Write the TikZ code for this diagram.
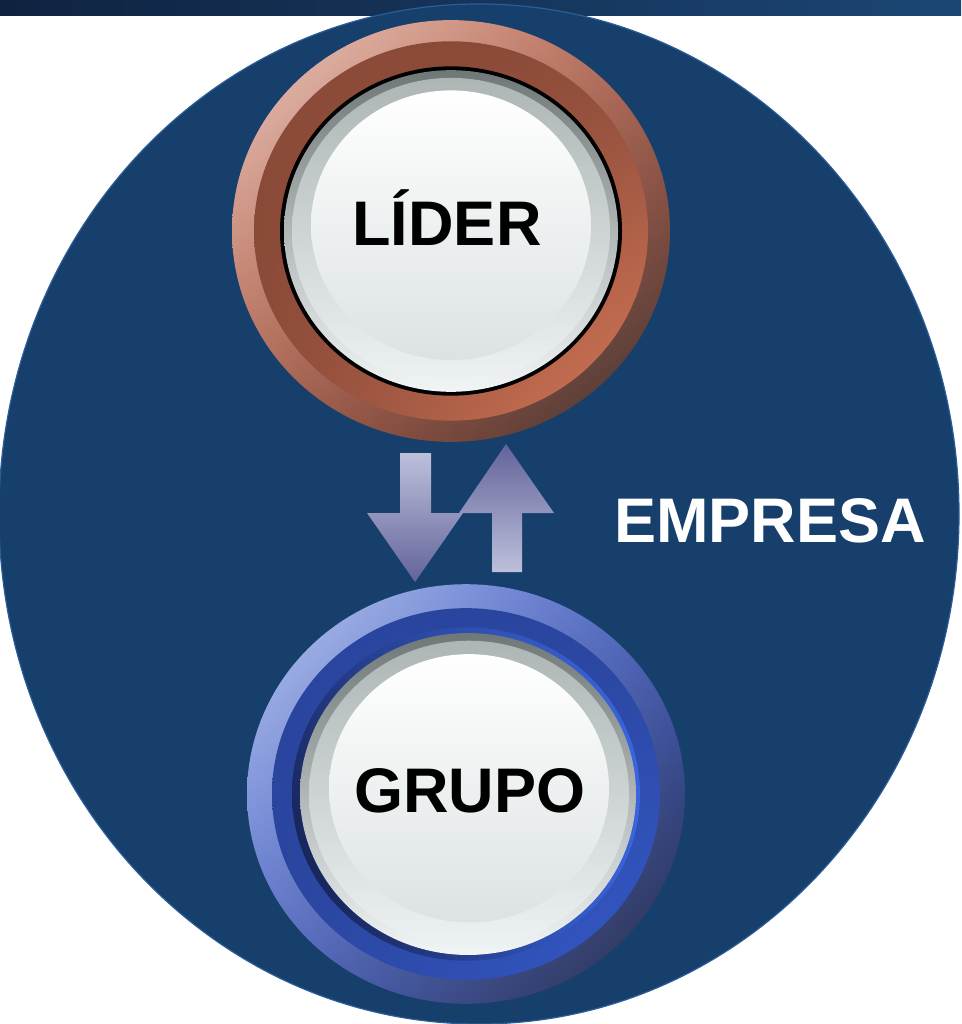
\documentclass[tikz,border=0pt]{standalone}
\usepackage{fontspec}
\setmainfont{Liberation Sans}
\usepackage{tikz}
\usetikzlibrary{shadings}

\definecolor{bandLeft}{HTML}{0F2340}
\definecolor{bandRight}{HTML}{1B4674}
\definecolor{empresaFill}{HTML}{173F6B}
\definecolor{empresaEdge}{HTML}{2B5D99}
\definecolor{cuUL}{HTML}{EDC9BE}
\definecolor{cuUR}{HTML}{B86650}
\definecolor{cuLL}{HTML}{AE5E48}
\definecolor{cuLR}{HTML}{3C302F}
\definecolor{cuBand}{HTML}{8A4A38}
\definecolor{cuBandLR}{HTML}{D67858}
\definecolor{bluUL}{HTML}{B7C6F2}
\definecolor{bluUR}{HTML}{4761C3}
\definecolor{bluLL}{HTML}{4F68C6}
\definecolor{bluLR}{HTML}{252A42}
\definecolor{bluBand}{HTML}{2A459E}
\definecolor{bluBandLR}{HTML}{3459C8}
\definecolor{bluRingUR}{HTML}{3A66DE}
\definecolor{bluRingLL}{HTML}{121A44}
\definecolor{bevelTop}{HTML}{6F7777}
\definecolor{bevelBottom}{HTML}{F2F5F5}
\definecolor{rimTop}{HTML}{ADB5B5}
\definecolor{rimBottom}{HTML}{EEF2F2}
\definecolor{glossMid}{HTML}{CBD2D2}
\definecolor{glossBottom}{HTML}{DCE2E2}
\definecolor{arrowLight}{HTML}{BDC0DB}
\definecolor{arrowDark}{HTML}{62639A}

\begin{document}
\begin{tikzpicture}
	[x=1pt, y=-1pt,
	 word/.style={font=\bfseries\fontsize{63}{70}\selectfont, inner sep=0pt, anchor=base},
	 bevel/.style={top color=bevelTop, bottom color=bevelBottom},
	 rim/.style={top color=rimTop, bottom color=rimBottom},
	 gloss/.style={top color=white, middle color=glossMid, bottom color=glossBottom}]
	\useasboundingbox (0,0) rectangle (961,1024);
	\fill[white] (0,0) rectangle (961,1024);

	% band and company
	\shade[left color=bandLeft, right color=bandRight] (0,0) rectangle (961,16);
	\fill[empresaFill, draw=empresaEdge, line width=1.2pt] (479,514) ellipse [x radius=480, y radius=510];

	% leader button
	\begin{scope}[shift={(451,231)}, yscale=0.963]
		\shade[upper left=cuUL, upper right=cuUR, lower left=cuLL, lower right=cuLR] (0,0) circle (219);
		\shade[upper left=cuBand, upper right=cuBand, lower left=cuBand, lower right=cuBandLR] (0,0) circle (197);
		\fill[black] (0,0) circle (171);
		\shade[bevel] (0,0) circle (167);
		\shade[rim] (0,0) circle (159);
		\shade[gloss] (0,-6) circle (140);
	\end{scope}

	% group button
	\begin{scope}[shift={(466,794)}, yscale=0.958]
		\shade[upper left=bluUL, upper right=bluUR, lower left=bluLL, lower right=bluLR] (0,0) circle (219);
		\shade[upper left=bluBand, upper right=bluBand, lower left=bluBand, lower right=bluBandLR] (0,0) circle (194);
		\shade[upper left=bluRingLL!60!bluRingUR, upper right=bluRingUR, lower left=bluRingLL, lower right=bluRingUR] (0,0) circle (174);
		\shade[bevel] (2,0) circle (168);
		\shade[rim] (3,0) circle (160);
		\shade[gloss] (3,-6) circle (140);
	\end{scope}

	% arrows
	\shade[top color=arrowLight, bottom color=arrowDark]
		(400,453) -- (431,453) -- (431,513) -- (463,513) -- (415,582) -- (367,513) -- (400,513) -- cycle;
	\shade[top color=arrowDark, bottom color=arrowLight]
		(506,444) -- (554,513) -- (522,513) -- (522,572) -- (492,572) -- (492,513) -- (459,513) -- cycle;

	\node[word] (lider) at (447,245) {LÍDER};
	\node[word] (grupo) at (470,812) {GRUPO};
	\node[word, text=white] (empresa) at (770,542) {EMPRESA};
\end{tikzpicture}
\end{document}
